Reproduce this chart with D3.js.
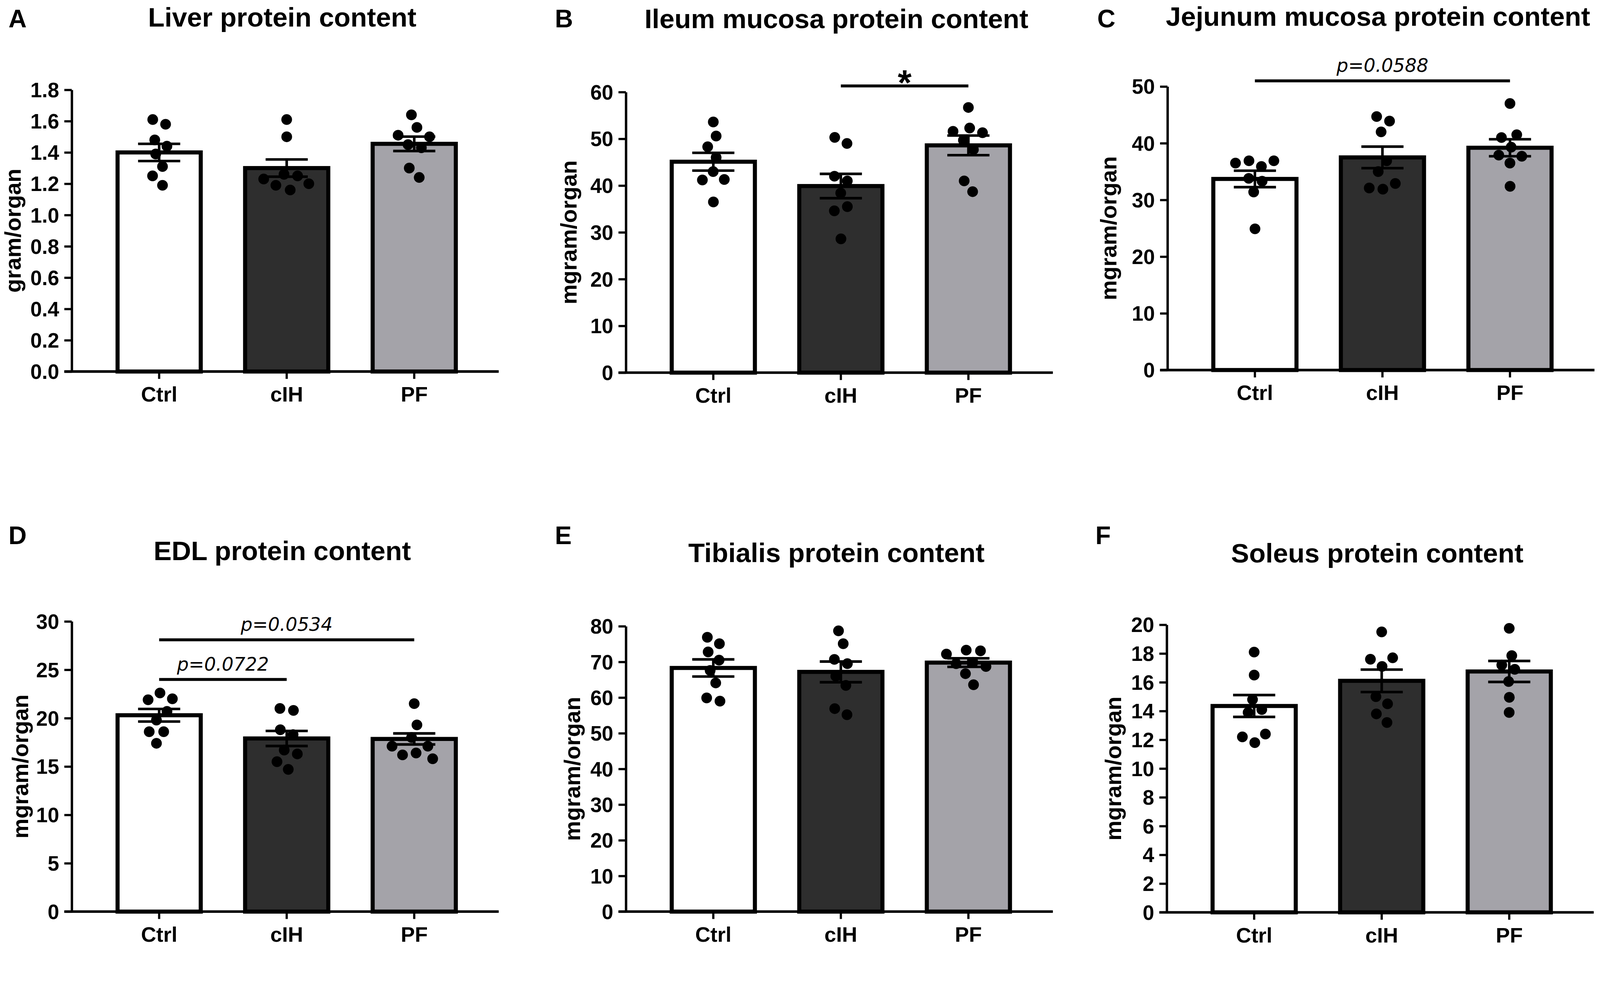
<!DOCTYPE html>
<html>
<head>
<meta charset="utf-8">
<script src="https://cdn.jsdelivr.net/npm/d3@7"></script>
<style>
html, body { margin: 0; padding: 0; background: #fff; overflow: hidden; width: 100%; height: 100%; }
svg { display: block; width: 100vw; height: 100vh; }
text { font-family: "Liberation Sans", Arial, sans-serif; font-weight: bold; fill: #000; }
text.pval { font-family: "DejaVu Sans", sans-serif; font-style: italic; font-weight: normal; }
</style>
</head>
<body>
<svg id="fig" viewBox="0 0 4328 2555" preserveAspectRatio="xMinYMin meet"></svg>
<script>
// ---- data ----
var groups = ["Ctrl", "cIH", "PF"];
var letters = ["A", "B", "C", "D", "E", "F"];
var titles = [
    "Liver protein content",
    "Ileum mucosa protein content",
    "Jejunum mucosa protein content",
    "EDL protein content",
    "Tibialis protein content",
    "Soleus protein content"
];
var yLabels = ["gram/organ", "mgram/organ", "mgram/organ", "mgram/organ", "mgram/organ", "mgram/organ"];
var yTicks = [
    [0, 0.2, 0.4, 0.6, 0.8, 1.0, 1.2, 1.4, 1.6, 1.8],
    [0, 10, 20, 30, 40, 50, 60],
    [0, 10, 20, 30, 40, 50],
    [0, 5, 10, 15, 20, 25, 30],
    [0, 10, 20, 30, 40, 50, 60, 70, 80],
    [0, 2, 4, 6, 8, 10, 12, 14, 16, 18, 20]
];
var yFormats = [".1f", "d", "d", "d", "d", "d"];

// bar heights (mean) and SEM per panel, order Ctrl / cIH / PF
var means = [
    [1.40, 1.30, 1.455],
    [45.1, 39.9, 48.6],
    [33.7, 37.5, 39.2],
    [20.3, 17.9, 17.85],
    [68.3, 67.2, 69.8],
    [14.35, 16.1, 16.75]
];
var sems = [
    [0.055, 0.055, 0.046],
    [1.9, 2.6, 2.1],
    [1.45, 1.9, 1.5],
    [0.65, 0.78, 0.57],
    [2.4, 2.9, 1.2],
    [0.76, 0.78, 0.73]
];
// individual animals
var points = [
    [[1.61, 1.58, 1.48, 1.44, 1.39, 1.31, 1.25, 1.19],
     [1.61, 1.50, 1.26, 1.25, 1.23, 1.20, 1.19, 1.16],
     [1.64, 1.56, 1.51, 1.50, 1.45, 1.43, 1.30, 1.24]],
    [[53.6, 50.6, 48.3, 46.0, 43.0, 41.3, 41.2, 36.5],
     [50.3, 49.0, 42.0, 41.0, 38.4, 35.5, 34.6, 28.6],
     [56.7, 52.3, 51.6, 51.3, 49.7, 47.7, 41.0, 38.7]],
    [[36.9, 36.9, 36.5, 35.9, 33.8, 33.3, 31.4, 24.9],
     [44.7, 43.9, 42.0, 36.9, 35.0, 32.9, 32.1, 31.9],
     [47.0, 41.5, 41.0, 39.3, 37.9, 37.7, 36.5, 32.4]],
    [[22.6, 22.0, 21.9, 20.7, 19.8, 18.6, 18.6, 17.4],
     [21.0, 20.8, 18.8, 18.3, 16.7, 16.3, 15.5, 14.7],
     [21.5, 19.3, 18.0, 17.1, 17.1, 16.4, 16.2, 15.8]],
    [[76.9, 75.1, 72.8, 70.5, 67.6, 64.1, 59.9, 59.0],
     [78.7, 75.1, 70.7, 69.5, 66.0, 63.4, 56.9, 55.2],
     [73.3, 73.1, 72.2, 69.9, 69.5, 68.7, 66.7, 63.6]],
    [[18.1, 16.5, 14.8, 14.1, 13.9, 12.4, 12.2, 11.8],
     [19.5, 17.7, 17.6, 17.1, 15.0, 14.5, 13.8, 13.2],
     [19.75, 17.85, 17.2, 16.9, 16.05, 14.95, 13.9]]
];
// significance brackets (y in data units of the panel)
var comparisons = [
    {panel: 1, from: "cIH", to: "PF", y: 61.3, label: "*"},
    {panel: 2, from: "Ctrl", to: "PF", y: 51.0, label: "p=0.0588"},
    {panel: 3, from: "Ctrl", to: "PF", y: 28.1, label: "p=0.0534"},
    {panel: 3, from: "Ctrl", to: "cIH", y: 24.0, label: "p=0.0722"}
];
var fills = ["#ffffff", "#2e2e2e", "#a4a3a9"];

// ---- page geometry ----
var layout = [
    {x: 194,  top: 243,  bottom: 1005, titleY: 72,   letterX: 23,   letterY: 74,   labelDx: -148},
    {x: 1693, top: 249,  bottom: 1008, titleY: 76,   letterX: 1501, letterY: 74,   labelDx: -143},
    {x: 3158, top: 234,  bottom: 1001, titleY: 70,   letterX: 2968, letterY: 74,   labelDx: -148},
    {x: 194,  top: 1681, bottom: 2466, titleY: 1515, letterX: 23,   letterY: 1472, labelDx: -128},
    {x: 1693, top: 1694, bottom: 2466, titleY: 1521, letterX: 1501, letterY: 1472, labelDx: -134},
    {x: 3156, top: 1690, bottom: 2468, titleY: 1522, letterX: 2963, letterY: 1472, labelDx: -133}
];
var axisLen = 1155, step = 345, barStroke = 11, dotR = 14.5, capHalf = 57;

var svg = d3.select("#fig");
svg.append("rect").attr("width", 4328).attr("height", 2555).attr("fill", "#fff");

letters.forEach(function(letter, p) {
    var L = layout[p];
    var g = svg.append("g");

    var y = d3.scaleLinear().domain([0, d3.max(yTicks[p])]).range([L.bottom, L.top]);
    var x = d3.scaleBand().domain(groups)
        .range([L.x + 64, L.x + 64 + 3 * step])
        .paddingInner(0.316).paddingOuter(0.158);
    var bw = x.bandwidth();

    // bars
    g.selectAll("rect.bar").data(groups).enter().append("rect")
        .attr("class", "bar")
        .attr("x", function(d) { return x(d) + barStroke / 2; })
        .attr("width", bw - barStroke)
        .attr("y", function(d, i) { return y(means[p][i]); })
        .attr("height", function(d, i) { return y(0) - y(means[p][i]); })
        .attr("fill", function(d, i) { return fills[i]; })
        .attr("stroke", "#000")
        .attr("stroke-width", barStroke);

    // scatter points, spread sideways so they do not overlap
    groups.forEach(function(grp, i) {
        var cx = x(grp) + bw / 2;
        var nodes = points[p][i].map(function(v, k) {
            return {v: v, y: y(v), fy: y(v), x: cx + (k % 2 ? 1 : -1) * (k + 1)};
        });
        var sim = d3.forceSimulation(nodes)
            .force("x", d3.forceX(cx).strength(0.05))
            .force("collide", d3.forceCollide(dotR + 4))
            .stop();
        for (var t = 0; t < 250; t++) sim.tick();
        g.selectAll(null).data(nodes).enter().append("circle")
            .attr("cx", function(d) { return d.x; })
            .attr("cy", function(d) { return d.fy; })
            .attr("r", dotR)
            .attr("fill", "#000");
    });

    // SEM error bars
    groups.forEach(function(grp, i) {
        var cx = x(grp) + bw / 2;
        var hi = y(means[p][i] + sems[p][i]), lo = y(means[p][i] - sems[p][i]);
        var eb = g.append("g").attr("stroke", "#000").attr("stroke-width", 7);
        eb.append("line").attr("x1", cx).attr("x2", cx).attr("y1", hi).attr("y2", lo);
        eb.append("line").attr("x1", cx - capHalf).attr("x2", cx + capHalf).attr("y1", hi).attr("y2", hi);
        eb.append("line").attr("x1", cx - capHalf).attr("x2", cx + capHalf).attr("y1", lo).attr("y2", lo);
    });

    // y axis
    var yAxis = g.append("g").attr("transform", "translate(" + L.x + ",0)")
        .call(d3.axisLeft(y).tickValues(yTicks[p]).tickFormat(d3.format(yFormats[p]))
            .tickSize(20).tickSizeOuter(0).tickPadding(14));
    yAxis.select(".domain").attr("stroke-width", 6.5);
    yAxis.selectAll(".tick line").attr("stroke-width", 6);
    yAxis.selectAll(".tick text").attr("font-size", 56).attr("dy", "0.35em");

    // x axis
    var xAxis = g.append("g").attr("transform", "translate(0," + L.bottom + ")")
        .call(d3.axisBottom(x).tickSize(20).tickSizeOuter(0).tickPadding(21));
    xAxis.select(".domain").remove();
    xAxis.selectAll(".tick line").attr("stroke-width", 6);
    xAxis.selectAll(".tick text").attr("font-size", 57);
    xAxis.append("line")
        .attr("x1", L.x - 20).attr("x2", L.x + axisLen)
        .attr("stroke", "#000").attr("stroke-width", 7);

    // y label
    g.append("text")
        .attr("transform", "translate(" + (L.x + L.labelDx) + "," + ((L.top + L.bottom) / 2) + ") rotate(-90)")
        .attr("text-anchor", "middle")
        .attr("dy", "0.16em")
        .attr("font-size", 61)
        .text(yLabels[p]);

    // title and panel letter
    g.append("text")
        .attr("x", L.x + axisLen / 2 - 8).attr("y", L.titleY)
        .attr("text-anchor", "middle")
        .attr("font-size", 73)
        .text(titles[p]);
    g.append("text")
        .attr("x", L.letterX).attr("y", L.letterY)
        .attr("font-size", 68)
        .text(letter);

    // significance brackets
    comparisons.filter(function(c) { return c.panel === p; }).forEach(function(c) {
        var x1 = x(c.from) + bw / 2, x2 = x(c.to) + bw / 2, cy = y(c.y);
        g.append("line")
            .attr("x1", x1).attr("x2", x2).attr("y1", cy).attr("y2", cy)
            .attr("stroke", "#000").attr("stroke-width", 8);
        if (c.label === "*") {
            g.append("text")
                .attr("x", (x1 + x2) / 2).attr("y", cy + 24)
                .attr("text-anchor", "middle")
                .attr("font-size", 96)
                .text(c.label);
        } else {
            g.append("text").attr("class", "pval")
                .attr("x", (x1 + x2) / 2).attr("y", cy - 24)
                .attr("text-anchor", "middle")
                .attr("font-size", 50)
                .text(c.label);
        }
    });
});
</script>
</body>
</html>
